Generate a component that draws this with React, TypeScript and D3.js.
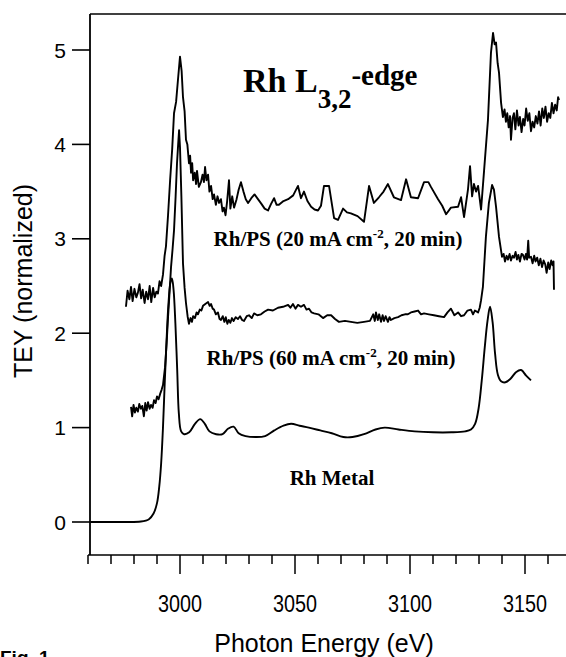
import * as d3 from "d3";
import React, { useEffect, useRef } from "react";

// TEY spectra: [photon energy (eV), TEY normalized]
const rhPs20: [number, number][] = [
  [2976.5, 2.28], [2977.2, 2.45], [2978.0, 2.36], [2978.7, 2.49], [2979.4, 2.34], [2980.2, 2.47],
  [2981.0, 2.38], [2981.7, 2.43], [2982.4, 2.52], [2983.1, 2.37], [2983.8, 2.46], [2984.6, 2.32],
  [2985.3, 2.44], [2986.1, 2.36], [2986.8, 2.5], [2987.5, 2.33], [2988.3, 2.48], [2989.0, 2.38],
  [2989.7, 2.44], [2990.4, 2.42], [2991.1, 2.55], [2991.8, 2.5], [2992.6, 2.62], [2993.3, 2.82],
  [2993.9, 2.92], [2994.8, 3.25], [2995.7, 3.62], [2996.6, 3.95], [2997.4, 4.33], [2998.3, 4.45],
  [2999.1, 4.68], [3000.0, 4.93], [3000.7, 4.78], [3001.3, 4.5], [3002.0, 4.35], [3002.6, 4.05],
  [3003.2, 4.0], [3003.9, 3.8], [3004.4, 3.88], [3004.8, 3.7], [3005.3, 3.8], [3005.7, 3.62],
  [3006.4, 3.7], [3007.0, 3.58], [3007.4, 3.72], [3008.2, 3.55], [3009.1, 3.6], [3009.8, 3.68],
  [3010.4, 3.6], [3010.9, 3.76], [3011.5, 3.62], [3012.2, 3.68], [3012.8, 3.5], [3013.5, 3.56],
  [3014.2, 3.42], [3014.8, 3.47], [3015.6, 3.36], [3016.3, 3.45], [3017.0, 3.38], [3017.8, 3.42],
  [3018.5, 3.29], [3019.1, 3.33], [3019.8, 3.25], [3020.5, 3.4], [3021.3, 3.62], [3021.9, 3.32],
  [3022.7, 3.45], [3023.5, 3.33], [3024.6, 3.42], [3025.5, 3.52], [3026.5, 3.6], [3027.6, 3.5],
  [3028.6, 3.42], [3029.6, 3.38], [3031.0, 3.43], [3032.4, 3.47], [3033.9, 3.42], [3035.4, 3.37],
  [3036.8, 3.32], [3038.3, 3.3], [3039.6, 3.37], [3040.9, 3.43], [3042.0, 3.36], [3043.0, 3.36],
  [3045.0, 3.4], [3047.0, 3.42], [3049.2, 3.46], [3051.3, 3.56], [3052.6, 3.43], [3053.9, 3.5],
  [3055.4, 3.4], [3057.0, 3.34], [3058.5, 3.31], [3060.0, 3.3], [3061.3, 3.35], [3062.6, 3.56],
  [3064.8, 3.56], [3067.0, 3.22], [3068.7, 3.2], [3070.9, 3.32], [3072.6, 3.28], [3074.3, 3.27],
  [3077.2, 3.24], [3080.0, 3.18], [3082.2, 3.56], [3084.3, 3.38], [3086.5, 3.44], [3088.5, 3.5],
  [3090.4, 3.58], [3093.0, 3.44], [3096.1, 3.41], [3098.3, 3.63], [3100.4, 3.44], [3103.5, 3.43],
  [3106.1, 3.6], [3108.0, 3.6], [3109.1, 3.55], [3112.2, 3.42], [3114.0, 3.35], [3115.7, 3.26],
  [3117.8, 3.33], [3120.9, 3.34], [3122.2, 3.44], [3123.5, 3.23], [3125.2, 3.52], [3126.1, 3.77],
  [3127.0, 3.45], [3127.8, 3.58], [3128.7, 3.5], [3129.6, 3.56], [3130.9, 3.31], [3132.2, 3.72],
  [3133.9, 4.26], [3135.2, 4.97], [3136.1, 5.18], [3136.8, 5.06], [3137.4, 5.08], [3138.1, 4.86],
  [3138.7, 4.76], [3139.6, 4.44], [3140.4, 4.29], [3141.1, 4.37], [3141.7, 4.24], [3142.3, 4.33],
  [3142.9, 4.18], [3143.5, 4.3], [3143.9, 4.05], [3144.6, 4.28], [3145.2, 4.33], [3145.8, 4.16],
  [3146.5, 4.36], [3147.2, 4.2], [3147.8, 4.29], [3148.5, 4.13], [3149.2, 4.27], [3149.8, 4.2],
  [3150.5, 4.38], [3151.2, 4.25], [3151.9, 4.33], [3152.6, 4.14], [3153.3, 4.24], [3154.0, 4.18],
  [3154.7, 4.3], [3155.4, 4.22], [3156.1, 4.35], [3156.8, 4.2], [3157.5, 4.38], [3158.2, 4.28],
  [3158.9, 4.4], [3159.6, 4.24], [3160.3, 4.33], [3161.0, 4.28], [3161.7, 4.44], [3162.4, 4.33],
  [3163.1, 4.42], [3163.8, 4.36], [3164.4, 4.5], [3164.8, 4.47],
];

const rhPs60: [number, number][] = [
  [2978.7, 1.22], [2979.2, 1.12], [2979.8, 1.24], [2980.4, 1.16], [2981.0, 1.21], [2981.7, 1.17],
  [2982.3, 1.25], [2983.0, 1.2], [2983.6, 1.23], [2984.3, 1.12], [2984.9, 1.26], [2985.5, 1.18],
  [2986.1, 1.27], [2986.8, 1.2], [2987.4, 1.24], [2988.1, 1.21], [2988.7, 1.29], [2989.4, 1.26],
  [2990.0, 1.33], [2990.7, 1.3], [2991.4, 1.36], [2992.0, 1.4], [2992.6, 1.45], [2993.5, 1.64],
  [2994.2, 1.9], [2994.8, 2.17], [2995.5, 2.45], [2996.1, 2.7], [2996.8, 2.9], [2997.4, 3.09],
  [2998.1, 3.45], [2998.7, 3.8], [2999.2, 4.0], [2999.6, 4.15], [3000.0, 3.97], [3000.6, 3.45],
  [3001.3, 2.74], [3002.0, 2.48], [3002.6, 2.32], [3003.3, 2.18], [3003.9, 2.1], [3004.6, 2.16],
  [3005.2, 2.12], [3005.7, 2.18], [3006.5, 2.16], [3007.2, 2.22], [3007.8, 2.2], [3008.6, 2.25],
  [3009.3, 2.24], [3010.0, 2.29], [3011.0, 2.31], [3012.2, 2.33], [3012.9, 2.29], [3013.5, 2.31],
  [3014.2, 2.26], [3014.8, 2.25], [3015.6, 2.2], [3016.5, 2.22], [3017.2, 2.15], [3017.8, 2.14],
  [3018.6, 2.18], [3019.3, 2.12], [3019.9, 2.17], [3020.6, 2.1], [3021.2, 2.14], [3021.9, 2.11],
  [3022.6, 2.16], [3023.3, 2.13], [3024.2, 2.17], [3025.2, 2.15], [3026.1, 2.18], [3027.0, 2.14],
  [3027.8, 2.13], [3029.0, 2.18], [3030.0, 2.19], [3031.2, 2.16], [3032.2, 2.21], [3033.6, 2.19],
  [3035.2, 2.2], [3036.8, 2.23], [3038.3, 2.25], [3040.4, 2.24], [3042.6, 2.27], [3044.8, 2.28],
  [3047.0, 2.3], [3048.0, 2.27], [3049.1, 2.31], [3050.2, 2.26], [3051.3, 2.3], [3052.6, 2.28],
  [3053.9, 2.3], [3055.0, 2.25], [3056.1, 2.26], [3057.2, 2.22], [3058.3, 2.21], [3060.2, 2.2],
  [3062.2, 2.16], [3064.0, 2.19], [3065.7, 2.19], [3067.4, 2.15], [3069.1, 2.12], [3071.7, 2.13],
  [3074.3, 2.12], [3077.1, 2.11], [3080.0, 2.12], [3082.6, 2.13], [3084.0, 2.2], [3084.7, 2.13],
  [3085.2, 2.22], [3086.0, 2.14], [3086.6, 2.2], [3087.4, 2.12], [3088.1, 2.19], [3088.7, 2.13],
  [3089.4, 2.18], [3090.4, 2.12], [3091.1, 2.17], [3091.7, 2.14], [3093.2, 2.16], [3094.8, 2.17],
  [3096.3, 2.19], [3097.8, 2.2], [3099.1, 2.2], [3100.4, 2.22], [3102.0, 2.23], [3103.5, 2.24],
  [3104.8, 2.2], [3106.1, 2.21], [3108.2, 2.2], [3110.4, 2.19], [3112.6, 2.18], [3114.8, 2.17],
  [3116.3, 2.22], [3117.8, 2.26], [3119.3, 2.19], [3120.9, 2.22], [3122.2, 2.18], [3123.5, 2.19],
  [3125.0, 2.24], [3126.5, 2.25], [3127.4, 2.2], [3128.2, 2.24], [3129.6, 2.22], [3130.3, 2.27],
  [3130.9, 2.35], [3131.7, 2.49], [3133.0, 3.02], [3134.3, 3.38], [3135.7, 3.57], [3136.5, 3.52],
  [3137.4, 3.34], [3138.7, 3.02], [3140.0, 2.81], [3140.7, 2.84], [3141.3, 2.76], [3142.0, 2.82],
  [3142.6, 2.78], [3143.3, 2.84], [3143.9, 2.77], [3144.6, 2.82], [3145.2, 2.8], [3145.9, 2.86],
  [3146.5, 2.78], [3147.1, 2.83], [3147.8, 2.76], [3148.5, 2.84], [3149.1, 2.83], [3149.8, 2.78],
  [3150.4, 2.84], [3150.9, 2.78], [3151.4, 2.98], [3151.8, 2.8], [3152.6, 2.81], [3153.3, 2.74],
  [3154.0, 2.82], [3154.6, 2.76], [3155.3, 2.8], [3156.0, 2.72], [3156.7, 2.79], [3157.4, 2.7],
  [3158.1, 2.77], [3158.8, 2.73], [3159.4, 2.64], [3160.1, 2.75], [3160.7, 2.68], [3161.4, 2.77],
  [3162.0, 2.72], [3162.4, 2.76], [3162.6, 2.46],
];

const rhMetal: [number, number][] = [
  [2961, 0], [2975, 0], [2983, 0.005], [2986.5, 0.03], [2988.5, 0.09], [2990.0, 0.2],
  [2991.0, 0.38], [2991.8, 0.62], [2992.6, 1.0], [2993.4, 1.5], [2994.2, 1.95], [2995.0, 2.32],
  [2995.8, 2.53], [2996.5, 2.58], [2997.2, 2.46], [2998.0, 2.1], [2998.8, 1.6], [2999.5, 1.15],
  [3000.5, 0.96], [3001.8, 0.93], [3004.0, 0.95], [3006.5, 1.04], [3008.8, 1.09], [3010.8, 1.04],
  [3012.8, 0.96], [3015.7, 0.93], [3018.5, 0.93], [3021.0, 0.99], [3023.3, 1.01], [3025.5, 0.94],
  [3028.5, 0.91], [3033.0, 0.9], [3037.0, 0.91], [3041.0, 0.97], [3045.0, 1.02], [3048.3, 1.04],
  [3052.0, 1.02], [3056.0, 1.0], [3061.0, 0.97], [3066.0, 0.94], [3071.0, 0.9], [3075.0, 0.9],
  [3080.0, 0.93], [3085.0, 0.98], [3089.0, 1.0], [3095.0, 0.98], [3102.0, 0.96], [3110.0, 0.95],
  [3118.0, 0.95], [3124.0, 0.96], [3126.5, 0.98], [3128.3, 1.04], [3129.8, 1.2], [3131.2, 1.5],
  [3132.5, 1.85], [3133.7, 2.13], [3134.8, 2.28], [3135.9, 2.12], [3137.0, 1.78], [3138.2, 1.56],
  [3139.6, 1.49], [3141.5, 1.48], [3143.8, 1.52], [3146.2, 1.59], [3148.3, 1.61], [3150.5, 1.55],
  [3152.6, 1.5],
];

const yTicks = [0, 1, 2, 3, 4, 5];
const xMajorTicks = [3000, 3050, 3100, 3150];
const xMinorTicks = [
  2960, 2970, 2980, 2990, 3010, 3020, 3030, 3040, 3060, 3070, 3080, 3090,
  3110, 3120, 3130, 3140, 3160, 3170,
];

const width = 566;
const height = 657;
const sans = "Arial, 'Liberation Sans', Helvetica, sans-serif";
const serif = "'Times New Roman', 'Liberation Serif', Times, serif";

const App = () => {
  const ref = useRef<HTMLDivElement>(null);

  useEffect(() => {
    const x = d3.scaleLinear().domain([2960, 3170]).range([88, 571]);
    const y = d3.scaleLinear().domain([0, 5]).range([522, 50]);
    const axisX = 90;
    const axisY = 555;

    const svg = d3
      .create("svg")
      .attr("width", width)
      .attr("height", height)
      .attr("viewBox", `0 0 ${width} ${height}`)
      .style("position", "absolute")
      .style("left", "0px")
      .style("top", "0px")
      .style("background", "#fff");

    // frame: top line and left axis
    svg.append("line")
      .attr("x1", axisX).attr("y1", 14).attr("x2", width).attr("y2", 14)
      .attr("stroke", "#000").attr("stroke-width", 1.6);
    svg.append("line")
      .attr("x1", axisX).attr("y1", 14).attr("x2", axisX).attr("y2", axisY)
      .attr("stroke", "#000").attr("stroke-width", 1.8);
    svg.append("line")
      .attr("x1", axisX - 2).attr("y1", axisY).attr("x2", width).attr("y2", axisY)
      .attr("stroke", "#000").attr("stroke-width", 1.6);

    // y ticks
    const yg = svg.append("g");
    yTicks.forEach((t) => {
      yg.append("line")
        .attr("x1", axisX - 18).attr("x2", axisX)
        .attr("y1", y(t)).attr("y2", y(t))
        .attr("stroke", "#000").attr("stroke-width", 1.6);
      yg.append("text")
        .attr("x", axisX - 24).attr("y", y(t) + 7.5)
        .attr("text-anchor", "end")
        .style("font-family", sans).style("font-size", "21px")
        .text(t);
    });

    // x ticks
    const xg = svg.append("g");
    xMinorTicks.forEach((t) => {
      xg.append("line")
        .attr("x1", x(t)).attr("x2", x(t))
        .attr("y1", axisY).attr("y2", axisY + 9)
        .attr("stroke", "#000").attr("stroke-width", 1.5);
    });
    xMajorTicks.forEach((t) => {
      xg.append("line")
        .attr("x1", x(t)).attr("x2", x(t))
        .attr("y1", axisY).attr("y2", axisY + 19)
        .attr("stroke", "#000").attr("stroke-width", 1.5);
      xg.append("text")
        .attr("x", x(t)).attr("y", 612)
        .attr("text-anchor", "middle")
        .attr("textLength", 44).attr("lengthAdjust", "spacingAndGlyphs")
        .style("font-family", sans).style("font-size", "24px")
        .text(t);
    });

    // axis titles
    svg.append("text")
      .attr("x", 324).attr("y", 652)
      .attr("text-anchor", "middle")
      .style("font-family", sans).style("font-size", "25px")
      .text("Photon Energy (eV)");

    svg.append("text")
      .attr("transform", "translate(32, 281) rotate(-90)")
      .attr("text-anchor", "middle")
      .style("font-family", sans).style("font-size", "25px")
      .text("TEY (normalized)");

    svg.append("text")
      .attr("x", 0).attr("y", 664)
      .style("font-family", sans).style("font-size", "19px").style("font-weight", "bold")
      .text("Fig. 1");

    // spectra
    const noisy = d3.line<[number, number]>()
      .x((d) => x(d[0]))
      .y((d) => y(d[1]));
    const smooth = d3.line<[number, number]>()
      .x((d) => x(d[0]))
      .y((d) => y(d[1]))
      .curve(d3.curveCatmullRom.alpha(0.5));

    [rhPs20, rhPs60].forEach((s) => {
      svg.append("path")
        .attr("d", noisy(s))
        .attr("fill", "none")
        .attr("stroke", "#000")
        .attr("stroke-width", 1.9)
        .attr("stroke-linejoin", "round");
    });
    svg.append("path")
      .attr("d", smooth(rhMetal))
      .attr("fill", "none")
      .attr("stroke", "#000")
      .attr("stroke-width", 1.9);

    // title
    const title = svg.append("text")
      .attr("x", 243).attr("y", 92)
      .style("font-family", serif).style("font-weight", "bold").style("font-size", "34px");
    title.append("tspan").text("Rh L");
    title.append("tspan").attr("dy", 16).style("font-size", "27px").text("3,2");
    title.append("tspan").attr("dy", -23).style("font-size", "29px").text("-edge");

    // curve labels
    const label = (cx: number, by: number, current: string) => {
      const t = svg.append("text")
        .attr("x", cx).attr("y", by)
        .attr("text-anchor", "middle")
        .style("font-family", serif).style("font-weight", "bold").style("font-size", "21px");
      t.append("tspan").text(`Rh/PS (${current} mA cm`);
      t.append("tspan").attr("dy", -8).style("font-size", "13px").text("-2");
      t.append("tspan").attr("dy", 8).text(", 20 min)");
    };
    label(338, 246, "20");
    label(331, 365, "60");

    svg.append("text")
      .attr("x", 332).attr("y", 485)
      .attr("text-anchor", "middle")
      .style("font-family", serif).style("font-weight", "bold").style("font-size", "21px")
      .text("Rh Metal");

    if (ref.current) {
      ref.current.innerHTML = "";
      ref.current.appendChild(svg.node() as SVGSVGElement);
    }
  }, []);

  return <div ref={ref}></div>;
};

export default App;
